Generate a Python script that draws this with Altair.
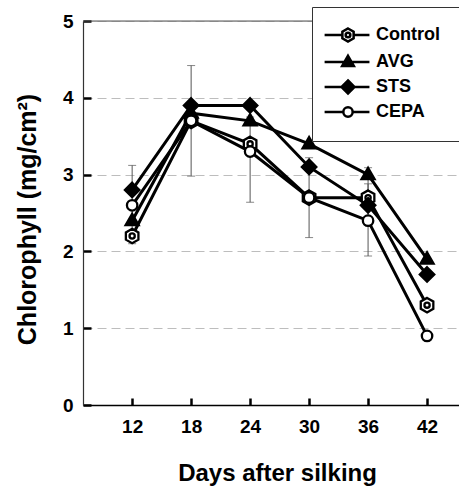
import altair as alt
import pandas as pd

# ---------------- data ----------------
days = [12, 18, 24, 30, 36, 42]
series_names = ["Control", "AVG", "STS", "CEPA"]
control = [2.2, 3.7, 3.4, 2.7, 2.7, 1.3]
avg = [2.4, 3.8, 3.7, 3.4, 3.0, 1.9]
sts = [2.8, 3.9, 3.9, 3.1, 2.6, 1.7]
cepa = [2.6, 3.7, 3.3, 2.7, 2.4, 0.9]

err_days = [12, 18, 24, 30, 36, 36]
err_low = [2.1, 2.98, 2.64, 2.18, 1.94, 2.55]
err_high = [3.12, 4.42, 3.75, 3.22, 3.09, 2.88]

y_ticks = [0, 1, 2, 3, 4, 5]
x_ticks = [12, 18, 24, 30, 36, 42]

# ---------------- frames ----------------
values = {"Control": control, "AVG": avg, "STS": sts, "CEPA": cepa}
rows = []
for name in series_names:
    for d, v in zip(days, values[name]):
        rows.append({"day": d, "value": v, "series": name})
df = pd.DataFrame(rows)
err_df = pd.DataFrame({"day": err_days, "lo": err_low, "hi": err_high})
frame_df = pd.DataFrame({"v": [5]})
leg_df = pd.DataFrame({"lseries": series_names})

FONT = "Liberation Sans"

# ---------------- marker shapes ----------------
HEX = "M0,-1L0.866,-0.5L0.866,0.5L0,1L-0.866,0.5L-0.866,-0.5Z"
RING = "M0.36,0A0.36,0.36 0 1,1 -0.36,0A0.36,0.36 0 1,1 0.36,0Z"
TRI = "M0,-0.95L0.9,0.62L-0.9,0.62Z"
DIA = "M0,-1L1,0L0,1L-1,0Z"
CIR = "M0.72,0A0.72,0.72 0 1,1 -0.72,0A0.72,0.72 0 1,1 0.72,0Z"

plot_shapes = [HEX + RING, TRI, DIA, CIR]
legend_shapes = [
    "M-3.6,0H-0.866M0.866,0H3.3" + HEX + RING,
    "M-3.6,0H3.3" + TRI,
    "M-3.6,0H3.3" + DIA,
    "M-3.6,0H-0.72M0.72,0H3.3" + CIR,
]
fills = ["white", "black", "black", "white"]
strokes = ["black", "black", "black", "black"]

# ---------------- axes ----------------
x_axis = alt.Axis(
    values=x_ticks, grid=False, title="Days after silking",
    tickSize={"expr": "-7"}, tickWidth=2.5, tickColor="black",
    domainColor="black", domainWidth=1.5,
    labelFont=FONT, labelFontWeight="bold", labelFontSize=19, labelColor="black",
    labelPadding=19,
    titleFont=FONT, titleFontWeight="bold", titleFontSize=24, titleColor="black",
    titleBaseline="alphabetic", titleX=194, titleY=75, titleAlign="center",
)
y_axis = alt.Axis(
    values=y_ticks, grid=True, gridDash=[9, 5], gridColor="#bdbdbd", gridWidth=1,
    title="Chlorophyll (mg/cm²)",
    tickSize={"expr": "-8"}, tickWidth=2.5, tickColor="black",
    domainColor="#333333", domainWidth=1.2,
    labelFont=FONT, labelFontWeight="bold", labelFontSize=19, labelColor="black",
    labelPadding=18,
    titleFont=FONT, titleFontWeight="bold", titleFontSize=25, titleColor="black",
    titleAngle=270, titleBaseline="alphabetic", titleX=-48, titleY=198,
    titleAlign="center",
)

x_scale = alt.Scale(domain=[7, 45.25], nice=False, zero=False)
y_scale = alt.Scale(domain=[0, 5], nice=False)

X = alt.X("day:Q", scale=x_scale, axis=x_axis)

# ---------------- layers ----------------
err_rule = alt.Chart(err_df).mark_rule(color="#555555", strokeWidth=1).encode(
    x=X,
    y=alt.Y("lo:Q", scale=y_scale, axis=y_axis),
    y2="hi:Q",
)
err_cap_lo = alt.Chart(err_df).mark_tick(
    color="#555555", orient="horizontal", size=8, thickness=1
).encode(x=X, y=alt.Y("lo:Q", scale=y_scale, axis=y_axis))
err_cap_hi = alt.Chart(err_df).mark_tick(
    color="#555555", orient="horizontal", size=8, thickness=1
).encode(x=X, y=alt.Y("hi:Q", scale=y_scale, axis=y_axis))

lines = alt.Chart(df).mark_line(color="black", strokeWidth=3).encode(
    x=X,
    y=alt.Y("value:Q", scale=y_scale, axis=y_axis),
    detail="series:N",
)

points = alt.Chart(df).mark_point(
    stroke="black", strokeWidth=2.3, opacity=1, size=210, filled=True
).encode(
    x=X,
    y=alt.Y("value:Q", scale=y_scale, axis=y_axis),
    shape=alt.Shape("series:N", scale=alt.Scale(domain=series_names, range=plot_shapes), legend=None),
    fill=alt.Fill("series:N", scale=alt.Scale(domain=series_names, range=fills), legend=None),
)

top_frame = alt.Chart(frame_df).mark_rule(color="#555555", strokeWidth=1).encode(
    y=alt.Y("v:Q", scale=y_scale, axis=y_axis)
)

leg = alt.Legend(
    orient="none", legendX=229, legendY=-14, title=None,
    padding=19, strokeColor="#333333", fillColor="white",
    symbolSize=169, symbolStrokeColor="black", symbolStrokeWidth=2.5,
    symbolOffset=8, labelOffset=19, rowPadding=3,
    labelFont=FONT, labelFontWeight="bold", labelFontSize=18, labelColor="black",
    labelLimit=300,
)
legend_layer = alt.Chart(leg_df).transform_filter("false").mark_point(
    strokeWidth=2.5, opacity=1, filled=True
).encode(
    shape=alt.Shape("lseries:N", scale=alt.Scale(domain=series_names, range=legend_shapes), legend=leg),
    fill=alt.Fill("lseries:N", scale=alt.Scale(domain=series_names, range=fills), legend=leg),
    stroke=alt.Stroke("lseries:N", scale=alt.Scale(domain=series_names, range=strokes), legend=leg),
)

chart = alt.layer(
    err_rule, err_cap_lo, err_cap_hi, lines, points, top_frame, legend_layer
).resolve_scale(
    shape="independent", fill="independent", stroke="independent"
).properties(
    width=376, height=384,
    autosize=alt.AutoSizeParams(type="none"),
    padding={"left": 83, "top": 21, "right": 0, "bottom": 85},
).configure_view(stroke=None).configure(font=FONT, background="white")

chart.save("out.html", embed_options={"renderer": "svg", "actions": False})
